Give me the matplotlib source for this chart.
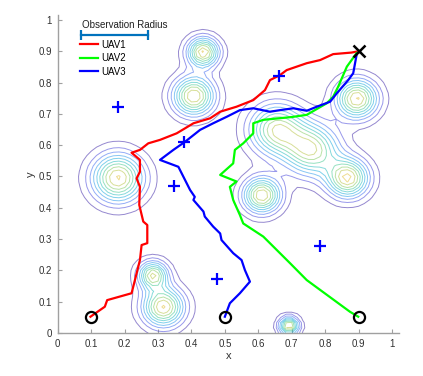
import numpy as np
import matplotlib
matplotlib.use("Agg")
import matplotlib.pyplot as plt
from matplotlib.colors import LinearSegmentedColormap

plt.rcParams['font.family'] = ['Liberation Sans', 'DejaVu Sans']

# ---- data ----
peak_x = [0.435, 0.407, 0.180, 0.285, 0.316, 0.692, 0.655, 0.760, 0.895, 0.868, 0.611]
peak_y = [0.897, 0.757, 0.495, 0.185, 0.083, 0.022, 0.650, 0.585, 0.748, 0.495, 0.440]
peak_s = [0.032, 0.042, 0.052, 0.030, 0.042, 0.020, 0.055, 0.055, 0.042, 0.042, 0.038]
peak_a = [1.0, 1.0, 1.0, 0.9, 1.0, 1.0, 0.87, 0.87, 1.0, 1.0, 1.0]

uav1_x = [0.098, 0.141, 0.148, 0.221, 0.231, 0.246, 0.251, 0.268, 0.268, 0.256, 0.244, 0.246,
          0.236, 0.246, 0.246, 0.221, 0.246, 0.271, 0.306, 0.356, 0.406, 0.456, 0.486, 0.535,
          0.585, 0.620, 0.635, 0.665, 0.685, 0.745, 0.785, 0.824, 0.879, 0.894]
uav1_y = [0.052, 0.084, 0.105, 0.127, 0.169, 0.233, 0.281, 0.287, 0.345, 0.356, 0.409, 0.467,
          0.494, 0.515, 0.553, 0.576, 0.585, 0.606, 0.617, 0.638, 0.670, 0.686, 0.707, 0.723,
          0.744, 0.776, 0.808, 0.824, 0.840, 0.862, 0.872, 0.891, 0.896, 0.899]

uav2_x = [0.899, 0.874, 0.745, 0.695, 0.615, 0.555, 0.545, 0.525, 0.515, 0.535, 0.486, 0.525,
          0.530, 0.555, 0.585, 0.585, 0.615, 0.700, 0.745, 0.805, 0.824, 0.839, 0.865, 0.894]
uav2_y = [0.052, 0.068, 0.169, 0.223, 0.308, 0.350, 0.377, 0.425, 0.467, 0.484, 0.505, 0.542,
          0.585, 0.606, 0.638, 0.670, 0.681, 0.690, 0.697, 0.734, 0.755, 0.787, 0.851, 0.894]

uav3_x = [0.500, 0.515, 0.545, 0.575, 0.560, 0.550, 0.525, 0.490, 0.486, 0.465, 0.440, 0.436,
          0.406, 0.410, 0.396, 0.361, 0.306, 0.346, 0.381, 0.426, 0.465, 0.506, 0.545, 0.585,
          0.635, 0.665, 0.705, 0.745, 0.775, 0.815, 0.835, 0.869, 0.884, 0.894]
uav3_y = [0.052, 0.095, 0.127, 0.164, 0.201, 0.233, 0.255, 0.297, 0.318, 0.340, 0.372, 0.388,
          0.425, 0.435, 0.457, 0.531, 0.553, 0.585, 0.611, 0.649, 0.670, 0.691, 0.712, 0.718,
          0.707, 0.712, 0.718, 0.710, 0.723, 0.739, 0.766, 0.808, 0.830, 0.888]

target_x = [0.180, 0.378, 0.348, 0.477, 0.662, 0.785]
target_y = [0.722, 0.610, 0.470, 0.172, 0.821, 0.278]

start_x = [0.1, 0.5, 0.9]
start_y = [0.05, 0.05, 0.05]
goal_x = [0.9]
goal_y = [0.9]

levels = [0.08, 0.18, 0.28, 0.38, 0.48, 0.58, 0.68, 0.78, 0.88, 0.98]

# ---- figure ----
fig = plt.figure(figsize=(4.23, 3.76), dpi=100)
ax = fig.add_axes([0.1364, 0.1144, 0.8069, 0.8457])

parula = LinearSegmentedColormap.from_list('parula', [
    (0.2422, 0.1504, 0.6603), (0.2810, 0.3228, 0.9579), (0.1540, 0.5902, 0.9218),
    (0.0689, 0.6948, 0.8394), (0.2161, 0.7843, 0.5923), (0.5783, 0.7918, 0.3174),
    (0.8650, 0.7430, 0.2060), (0.9906, 0.7981, 0.2353), (0.9769, 0.9839, 0.0805)])

gx = np.linspace(0, 1, 61)
gy = np.linspace(0, 1, 61)
X, Y = np.meshgrid(gx, gy)
Z = np.zeros_like(X)
for px, py, ps, pa in zip(peak_x, peak_y, peak_s, peak_a):
    Z += pa * np.exp(-((X - px) ** 2 + (Y - py) ** 2) / (2 * ps ** 2))
ax.contour(X, Y, Z, levels=levels, cmap=parula, vmin=levels[0], vmax=1.25,
           linewidths=0.7, alpha=0.55)

ax.plot(uav1_x, uav1_y, color=(1, 0, 0), lw=1.6, label='UAV1')
ax.plot(uav2_x, uav2_y, color=(0, 1, 0), lw=1.6, label='UAV2')
ax.plot(uav3_x, uav3_y, color=(0, 0, 1), lw=1.6, label='UAV3')
ax.plot(target_x, target_y, '+', color=(0, 0, 1), ms=8, mew=1.6)
ax.plot(start_x, start_y, 'o', mfc='none', mec='k', ms=8, mew=1.6)
ax.plot(goal_x, goal_y, 'x', color='k', ms=8, mew=1.8)

# observation radius indicator
ax.plot([0.069, 0.269], [0.952, 0.952], color=(0, 0.447, 0.741), lw=1.6)
ax.plot([0.069, 0.269], [0.952, 0.952], '|', color=(0, 0.447, 0.741), ms=7, mew=1.6)
ax.text(0.072, 0.985, 'Observation Radius', fontsize=7, ha='left', va='center', color='#202020')

leg = ax.legend(loc='upper left', bbox_to_anchor=(0.055, 0.934), frameon=False, fontsize=7,
                handlelength=1.8, handletextpad=0.4, labelspacing=0.35, borderaxespad=0)

ax.set_xlim(0, 1.021)
ax.set_ylim(0, 1.016)
ax.set_xticks(np.arange(0, 1.01, 0.1))
ax.set_yticks(np.arange(0, 1.01, 0.1))
ax.set_xticklabels(['0', '0.1', '0.2', '0.3', '0.4', '0.5', '0.6', '0.7', '0.8', '0.9', '1'])
ax.set_yticklabels(['0', '0.1', '0.2', '0.3', '0.4', '0.5', '0.6', '0.7', '0.8', '0.9', '1'])
for s in ['top', 'right']:
    ax.spines[s].set_visible(False)
for s in ['left', 'bottom']:
    ax.spines[s].set_color('#a0a0a0')
    ax.spines[s].set_linewidth(1.0)
ax.tick_params(direction='in', length=3, width=0.8, color='#a0a0a0', labelsize=7,
               labelcolor='#303030', pad=4)
ax.set_xlabel('x', fontsize=8, color='#303030', labelpad=2)
ax.set_ylabel('y', fontsize=8, color='#303030', labelpad=2)

fig.savefig('out.png', dpi=100)
